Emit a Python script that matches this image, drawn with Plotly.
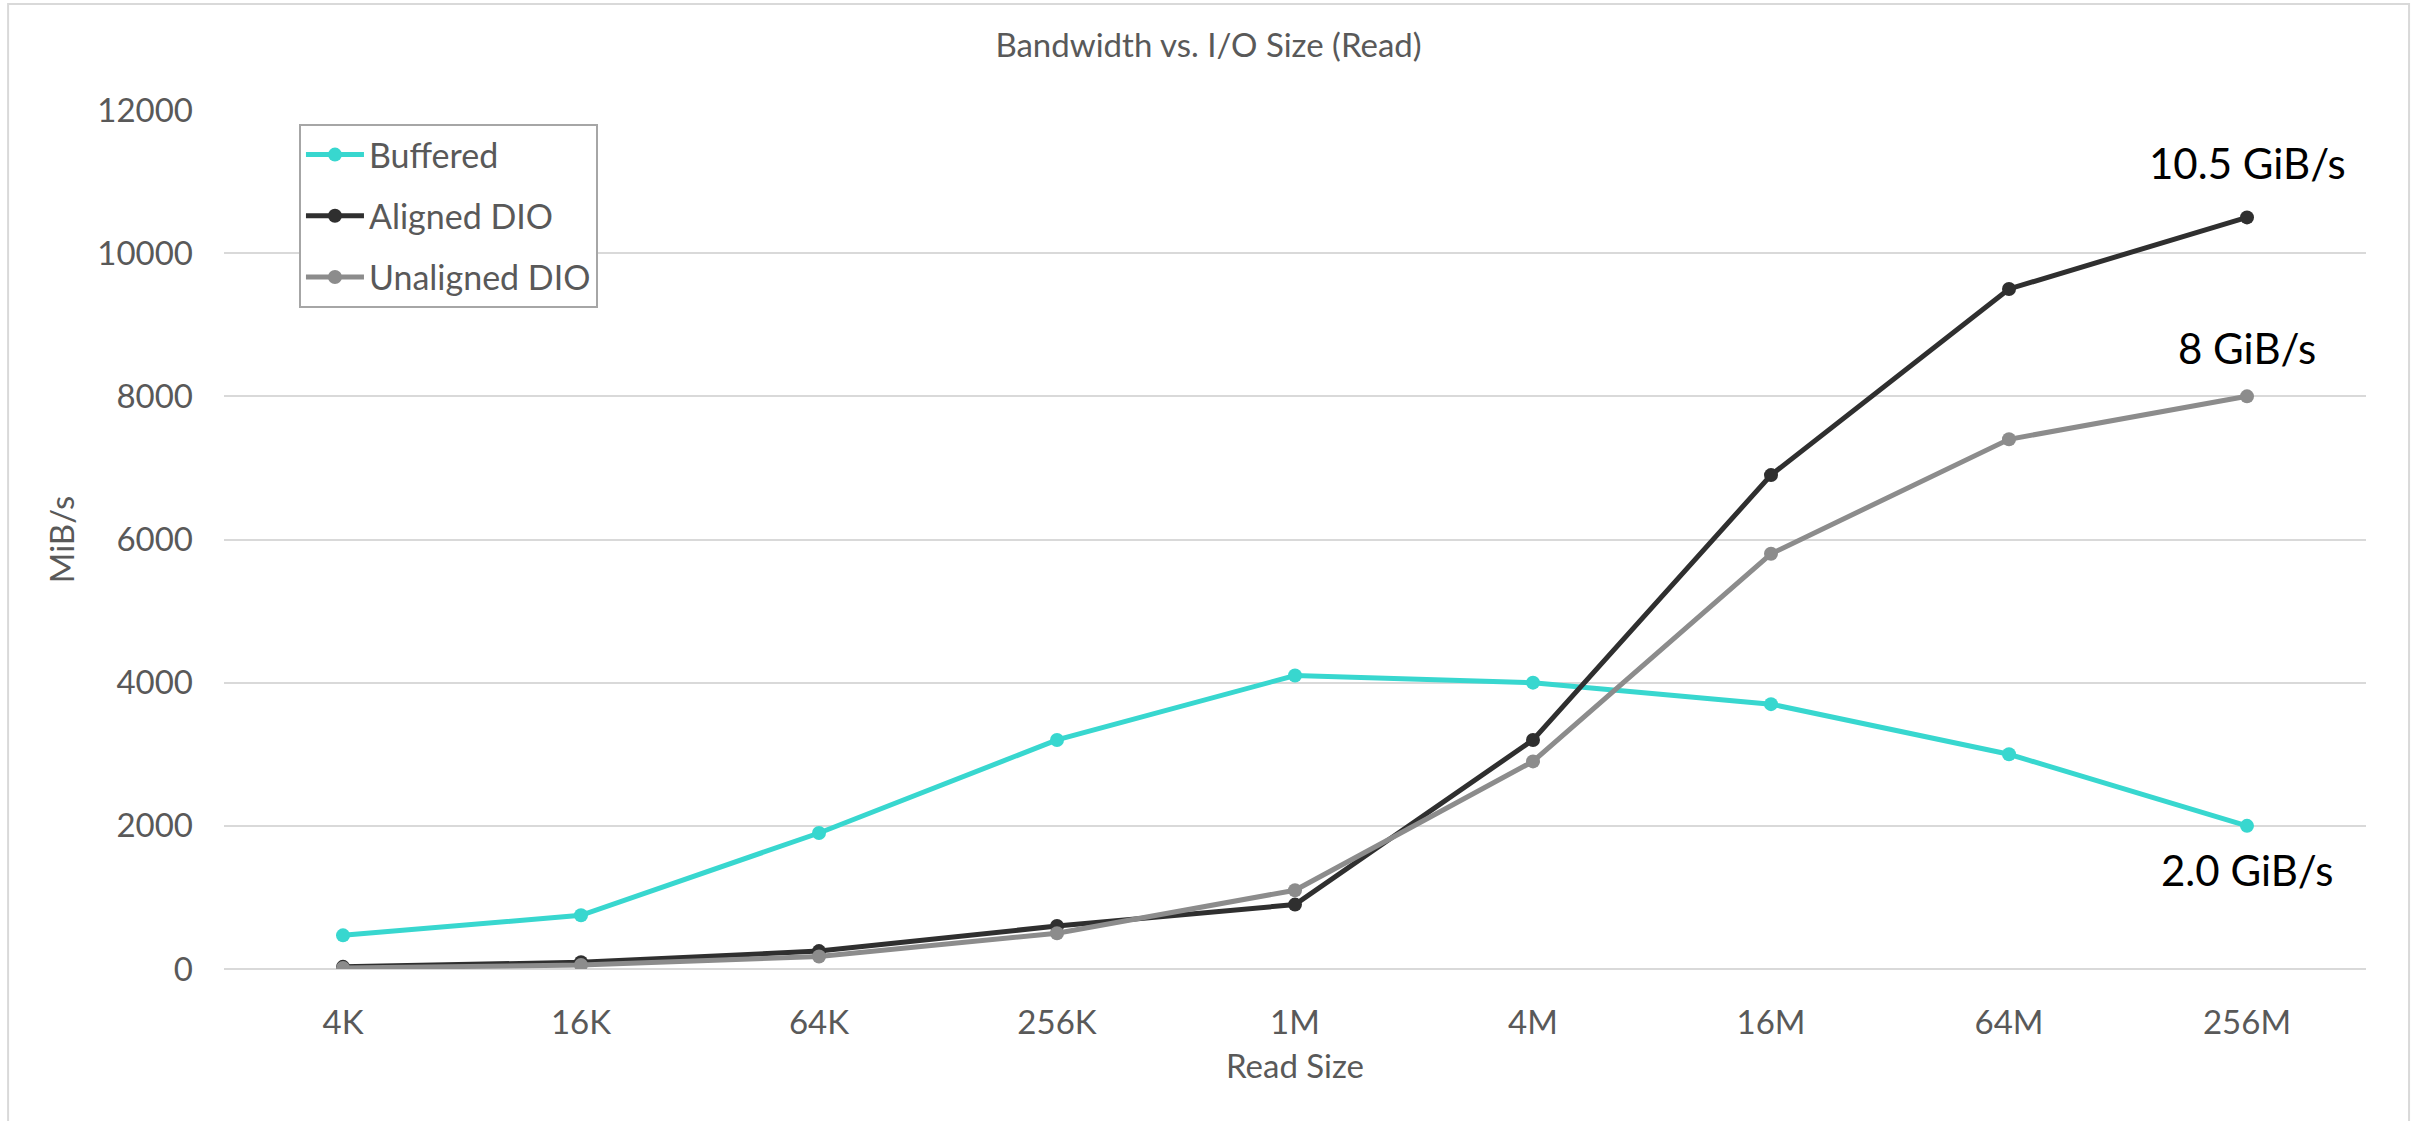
import plotly.graph_objects as go

# Read sizes and measured read bandwidth (MiB/s)
read_sizes = ["4K", "16K", "64K", "256K", "1M", "4M", "16M", "64M", "256M"]
buffered = [470, 750, 1900, 3200, 4100, 4000, 3700, 3000, 2000]
aligned_dio = [30, 95, 250, 600, 900, 3200, 6900, 9500, 10500]
unaligned_dio = [15, 55, 175, 500, 1100, 2900, 5800, 7400, 8000]

y_ticks = [0, 2000, 4000, 6000, 8000, 10000, 12000]

# Peak labels at the largest read size
peak_labels = ["2.0 GiB/s", "10.5 GiB/s", "8 GiB/s"]

FONT = "Lato"
GREY_TEXT = "#595959"
GRID = "#D9D9D9"

series = [
    ("Buffered", buffered, "#38D7CF"),
    ("Aligned DIO", aligned_dio, "#2F2F2F"),
    ("Unaligned DIO", unaligned_dio, "#8C8C8C"),
]

fig = go.Figure()
for name, vals, color in series:
    fig.add_trace(go.Scatter(
        x=read_sizes, y=vals, name=name, legendgroup=name,
        mode="lines+markers",
        line=dict(color=color, width=5),
        marker=dict(color=color, size=14),
    ))

# Value labels next to the last point of each series
label_shift = [-44, 54, 48]
for (name, vals, color), text, shift in zip(series, peak_labels, label_shift):
    fig.add_annotation(
        x=read_sizes[-1], y=vals[-1], text=text, showarrow=False,
        xanchor="center", yanchor="middle", yshift=shift,
        font=dict(family=FONT, size=42, color="#000000"),
    )

# Outer chart frame
fig.add_shape(
    type="rect", xref="paper", yref="paper",
    x0=-0.1008, x1=1.0201, y0=-0.19, y1=1.1234,
    line=dict(color=GRID, width=2), fillcolor="rgba(0,0,0,0)", layer="below",
)

fig.update_layout(
    width=2417, height=1121,
    margin=dict(l=224, r=51, t=110, b=152),
    paper_bgcolor="white", plot_bgcolor="white",
    font=dict(family=FONT, size=33, color=GREY_TEXT),
    title=dict(
        text="Bandwidth vs. I/O Size (Read)",
        x=0.5, xref="container", xanchor="center",
        y=1 - 45 / 1121, yref="container", yanchor="middle",
        font=dict(family=FONT, size=33, color=GREY_TEXT),
    ),
    legend=dict(
        x=0.035, y=0.9837, xanchor="left", yanchor="top",
        bgcolor="white", bordercolor="#A6A6A6", borderwidth=2,
        font=dict(family=FONT, size=34, color=GREY_TEXT),
        tracegroupgap=14, traceorder="grouped", itemwidth=58,
    ),
    showlegend=True,
)

fig.update_xaxes(
    type="category", categoryorder="array", categoryarray=read_sizes,
    range=[-0.5, len(read_sizes) - 0.5],
    showgrid=False, showline=False, zeroline=False, ticks="",
    ticklabelstandoff=31,
    tickfont=dict(family=FONT, size=33, color=GREY_TEXT),
    title=dict(text="Read Size", standoff=14,
               font=dict(family=FONT, size=33, color=GREY_TEXT)),
)
fig.update_yaxes(
    range=[0, 12000], tickmode="array", tickvals=y_ticks,
    ticktext=[str(v) for v in y_ticks],
    showgrid=True, gridcolor=GRID, gridwidth=2,
    zeroline=True, zerolinecolor=GRID, zerolinewidth=2,
    showline=False, ticks="", ticklabelstandoff=30,
    tickfont=dict(family=FONT, size=33, color=GREY_TEXT),
    title=dict(text="MiB/s", standoff=12,
               font=dict(family=FONT, size=33, color=GREY_TEXT)),
)

fig.write_html("out.html")
